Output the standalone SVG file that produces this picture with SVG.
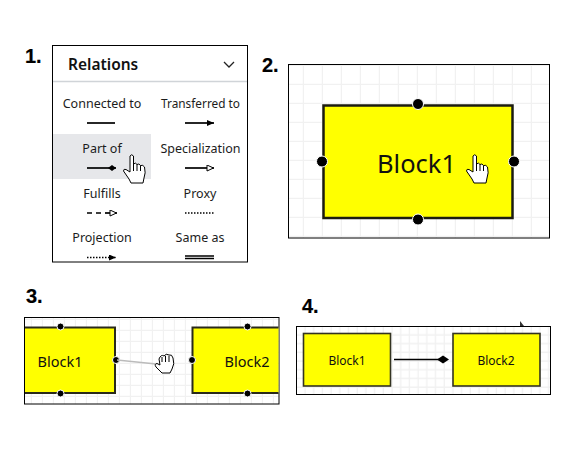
<svg xmlns="http://www.w3.org/2000/svg" xmlns:xlink="http://www.w3.org/1999/xlink" width="576" height="452" viewBox="0 0 576 452">
<style>
text{font-family:"Noto Sans","Liberation Sans",sans-serif;fill:#111}
.num{font-family:"Liberation Sans",Arial,sans-serif;font-weight:700;font-size:20px;fill:#000;stroke:#000;stroke-width:.2}
.lbl{font-size:12.5px;text-anchor:middle;fill:#1c1c1c}
.frame{fill:#fff;stroke:#000;stroke-width:1}
.block{fill:#ff0;stroke:#1c1c10;stroke-width:2.500}
.block.mid{stroke-width:2;stroke:#2a2a1a}
.block.thin{stroke-width:1.600;stroke:#333322}
.rel{stroke:#000;stroke-width:1.700;fill:none}
.dot{fill:#000;stroke:#fff;stroke-width:1}
.hand{fill:#fff;stroke:#000;stroke-width:1;stroke-linejoin:round}
</style>
<defs>
<pattern id="g2" width="19" height="19" patternUnits="userSpaceOnUse" x="285" y="66"><path d="M18.500 0V19M0 18.500H19" stroke="#f1f1f1" stroke-width="1.500" fill="none"/></pattern>
<pattern id="g3" width="11" height="11" patternUnits="userSpaceOnUse" x="21" y="320"><path d="M10.500 0V11M0 10.500H11" stroke="#f1f1f1" stroke-width="1.300" fill="none"/></pattern>
<pattern id="g4" width="8.700" height="8.700" patternUnits="userSpaceOnUse" x="297" y="327"><path d="M8 0V8.700M0 8H8.700" stroke="#f1f1f1" stroke-width="1.300" fill="none"/></pattern>
<marker id="tri" markerWidth="8" markerHeight="8" refX="7" refY="3" orient="auto" markerUnits="userSpaceOnUse"><path d="M0 0L7 3L0 6Z" fill="#000"/></marker>
<marker id="tro" markerWidth="9" markerHeight="8" refX="8" refY="3.500" orient="auto" markerUnits="userSpaceOnUse"><path d="M1 .5L7.500 3.500L1 6.500Z" fill="#fff" stroke="#000"/></marker>
<marker id="dia" markerWidth="9" markerHeight="8" refX="8" refY="3.500" orient="auto" markerUnits="userSpaceOnUse"><path d="M0 3.500L4 .5L8 3.500L4 6.500Z" fill="#000"/></marker>
<g id="hand"><path class="hand" d="M7 2Q8.700-.5 10.500 2L10.500 10Q12.500 8 14 10.500Q16 9 17.500 11.500Q20 10.500 21.500 13Q23 19 21 24L20 29L8 29L6 25L.5 17Q.5 14.500 3 15.500L7 18Z"/><path d="M10.500 10V17M14 10.500V17M17.500 11.500V17" stroke="#000" fill="none"/></g>
</defs>

<text class="num" x="25" y="63">1.</text>
<text class="num" x="262" y="72">2.</text>
<text class="num" x="26" y="303">3.</text>
<text class="num" x="302" y="313">4.</text>

<g id="panel-relations">
<rect class="frame" x="52.500" y="45.500" width="195" height="216.500"/>
<rect x="53" y="134" width="98" height="45" fill="#e6e7ea"/>
<path d="M53 81.500H247" stroke="#d0d4d8" stroke-width="1.500"/>
<text x="68" y="70" font-size="15.500" font-weight="600">Relations</text>
<path d="M224 62L229 67L234 62" fill="none" stroke="#222" stroke-width="1.300"/>
</g>
<g id="connectors-relations">
<path class="rel" d="M87 123H115"/>
<path class="rel" d="M185 123H214" marker-end="url(#tri)"/>
<path class="rel" d="M87 168H116" marker-end="url(#dia)"/>
<path class="rel" d="M185 168H214" marker-end="url(#tro)"/>
<path class="rel" d="M87 213H105" stroke-dasharray="5 4"/><path class="rel" d="M105 213H117" marker-end="url(#tro)"/>
<path d="M185 213H214" stroke="#000" stroke-width="1.500" stroke-dasharray="1.500 1.500"/>
<path d="M87 257.500H116" class="rel" stroke-dasharray="1.500 1.500" marker-end="url(#tri)"/>
<path d="M185 256H214M185 258.500H214" stroke="#000" stroke-width="1.300"/>
</g>
<g id="labels-relations">
<text class="lbl" x="102" y="108">Connected to</text>
<text class="lbl" x="200.500" y="108" textLength="79" lengthAdjust="spacingAndGlyphs">Transferred to</text>
<text class="lbl" x="102" y="153">Part of</text>
<text class="lbl" x="200.500" y="153">Specialization</text>
<text class="lbl" x="102" y="197.500">Fulfills</text>
<text class="lbl" x="200" y="197.500">Proxy</text>
<text class="lbl" x="102" y="242">Projection</text>
<text class="lbl" x="200" y="242">Same as</text>
</g>
<use xlink:href="#hand" href="#hand" x="123" y="154"/>

<g id="panel-2">
<rect x="288.500" y="64.500" width="261" height="173.500" fill="url(#g2)"/>
<rect x="288.500" y="64.500" width="261" height="173.500" fill="none" stroke="#000"/>
</g>
<g id="block1-a">
<rect class="block" x="323.500" y="105.500" width="189" height="112.500"/>
<text x="416.500" y="173" font-size="25.500" text-anchor="middle">Block1</text>
<circle class="dot" cx="418" cy="104" r="5.500"/><circle class="dot" cx="418" cy="219.500" r="5.500"/><circle class="dot" cx="322" cy="161.500" r="5.500"/><circle class="dot" cx="514" cy="161.500" r="5.500"/>
</g>
<use xlink:href="#hand" href="#hand" x="466" y="154"/>

<g id="panel-3">
<rect x="24.500" y="317.500" width="254.500" height="86.500" fill="url(#g3)"/>
<rect x="24.500" y="317.500" width="254.500" height="86.500" fill="none" stroke="#000"/>
</g>
<g id="block1-b">
<path class="block mid" d="M25 327.500H115V393H25"/>
<text x="60" y="367" font-size="14.500" text-anchor="middle">Block1</text>
<circle class="dot" cx="60.500" cy="326.500" r="3.500"/><circle class="dot" cx="60.500" cy="393.500" r="3.500"/><circle class="dot" cx="116" cy="360" r="3.500"/>
</g>
<g id="block2-b">
<path class="block mid" d="M278.500 327.500H192.500V393H278.500"/>
<text x="247" y="367" font-size="14.500" text-anchor="middle">Block2</text>
<circle class="dot" cx="247.500" cy="326.500" r="3.500"/><circle class="dot" cx="247.500" cy="393.500" r="3.500"/><circle class="dot" cx="192" cy="360" r="3.500"/>
</g>
<g id="connector-3"><path d="M117 360L156 364" stroke="#bbb" stroke-width="1.500" fill="none"/></g>
<g id="grab-hand"><path class="hand" d="M159 359Q161 354 164 356Q166 353 169 355Q172 354 173 358Q175 364 172 369L170 373H162L156 367Q154 364 157 363.500L160 365Z"/><path d="M162 357V362M165.500 356V362M169 356V362" stroke="#000" fill="none"/></g>

<g id="panel-4">
<path d="M520 321V326L524 326Z" fill="#333"/>
<rect x="296.500" y="326.500" width="254" height="68" fill="url(#g4)"/>
<rect x="296.500" y="326.500" width="254" height="68" fill="none" stroke="#000"/>
</g>
<g id="block1-c">
<rect class="block thin" x="303.500" y="333.500" width="87" height="52.500"/>
<text x="347" y="365" font-size="12" text-anchor="middle">Block1</text>
</g>
<g id="block2-c">
<rect class="block thin" x="453" y="333.500" width="87" height="52.500"/>
<text x="496" y="365" font-size="12" text-anchor="middle">Block2</text>
</g>
<g id="connector-4">
<path d="M394 359.500H440" stroke="#000" stroke-width="1.700"/>
<path d="M437 359.500L443 355.500L449 359.500L443 363.500Z" fill="#000"/>
</g>
</svg>
